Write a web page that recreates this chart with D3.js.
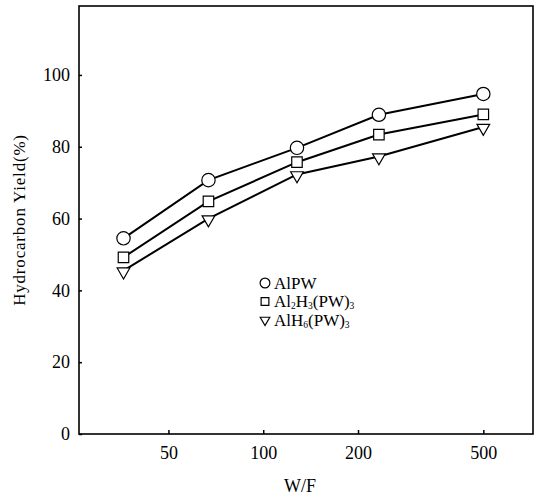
<!DOCTYPE html>
<html>
<head>
<meta charset="utf-8">
<style>
  body { margin: 0; background: #fff; }
  text { font-family: "Liberation Serif", "DejaVu Serif", serif; fill: #000; }
</style>
</head>
<body>
<svg width="536" height="497"></svg>
<script src="https://d3js.org/d3.v7.min.js"></script>
<script>

// W/F values (log axis) and yields (%)
var wf = [36, 67, 128, 233, 500];
var alpw = [54.5, 70.7, 79.7, 88.9, 94.7];
var al2h3 = [49.2, 64.8, 75.7, 83.4, 89.0];
var alh6 = [45.5, 60.0, 72.3, 77.3, 85.5];
var xTicks = [50, 100, 200, 500];
var yTicks = [0, 20, 40, 60, 80, 100];

var svg = d3.select("svg"),
    margin = {top: 6, right: 3, bottom: 63, left: 79},
    width = svg.attr("width") - margin.left - margin.right,
    height = svg.attr("height") - margin.top - margin.bottom,
    g = svg.append("g").attr("transform", "translate(" + margin.left + "," + margin.top + ")");

var x = d3.scaleLog().domain([26.0, 719]).range([0, width]),
    y = d3.scaleLinear().domain([0, 119.2]).range([height, 0]);

var series = [
  {name: "AlPW", values: alpw, shape: "circle"},
  {name: "Al2H3(PW)3", values: al2h3, shape: "square"},
  {name: "AlH6(PW)3", values: alh6, shape: "triangle"}
];

var types = {circle: d3.symbolCircle, square: d3.symbolSquare, triangle: d3.symbolTriangle};
var sizes = {circle: 140, square: 110, triangle: 70};      // plot markers
var legSizes = {circle: 75, square: 60, triangle: 40};     // legend markers

function marker(sel, shape, size) {
  sel.attr("d", d3.symbol().type(types[shape]).size(size)())
     .attr("fill", "#fff")
     .attr("stroke", "#000")
     .attr("stroke-width", 1.2);
}

// frame
g.append("rect")
    .attr("width", width)
    .attr("height", height)
    .attr("fill", "none")
    .attr("stroke", "#000")
    .attr("stroke-width", 1.6);

// axes
g.append("g")             //xAxis
    .attr("transform", "translate(0," + height + ")")
    .call(d3.axisBottom(x).tickValues(xTicks).tickFormat(d3.format("d"))
      .tickSizeInner(-4).tickSizeOuter(0).tickPadding(12))
    .call(function(a) {
      a.select(".domain").remove();
      a.selectAll("line").attr("stroke-width", 1.5);
      a.selectAll("text").style("font-size", "18px").attr("font-family", null);
    });

g.append("g")             //yAxis
    .call(d3.axisLeft(y).tickValues(yTicks)
      .tickSizeInner(-3).tickSizeOuter(0).tickPadding(9))
    .call(function(a) {
      a.select(".domain").remove();
      a.selectAll("line").attr("stroke-width", 1.5);
      a.selectAll("text").style("font-size", "18px").attr("font-family", null);
    });

svg.append("text")
    .attr("transform", "translate(25," + 220 + ") rotate(-90)")
    .attr("text-anchor", "middle")
    .style("font-size", "17px")
    .style("letter-spacing", "0.8px")
    .text("Hydrocarbon Yield(%)");

svg.append("text")
    .attr("x", 300)
    .attr("y", 492)
    .attr("text-anchor", "middle")
    .style("font-size", "18px")
    .text("W/F");

var line = d3.line()
    .x(function(d, i) { return x(wf[i]); })
    .y(function(d) { return y(d); });

var sg = g.selectAll(".series")
    .data(series)
  .enter().append("g")
    .attr("class", "series");

sg.append("path")
    .attr("fill", "none")
    .attr("stroke", "#000")
    .attr("stroke-width", 2)
    .attr("d", function(d) { return line(d.values); });

sg.each(function(s) {
  d3.select(this).selectAll(".pt")
      .data(s.values)
    .enter().append("path")
      .attr("class", "pt")
      .attr("transform", function(d, i) {
        var dy = s.shape === "triangle" ? 1 : 0;
        return "translate(" + x(wf[i]) + "," + (y(d) + dy) + ")" + (s.shape === "triangle" ? " rotate(180)" : "");
      })
      .each(function() { marker(d3.select(this), s.shape, sizes[s.shape]); });
});

// legend
var leg = svg.append("g").attr("transform", "translate(265,283)");
series.forEach(function(s, i) {
  var row = leg.append("g").attr("transform", "translate(0," + (i * 18.5) + ")");
  row.append("path")
      .attr("transform", s.shape === "triangle" ? "rotate(180)" : null)
      .call(marker, s.shape, legSizes[s.shape]);
  var t = row.append("text")
      .attr("x", 9)
      .attr("y", 5.5)
      .style("font-size", "17px");
  if (s.shape === "circle") {
    t.text("AlPW");
  } else {
    var sub1 = s.shape === "square" ? "2" : "";
    var sub2 = s.shape === "square" ? "3" : "6";
    t.append("tspan").text("Al");
    if (sub1) t.append("tspan").attr("dy", 2).style("font-size", "9.5px").text(sub1);
    t.append("tspan").attr("dy", sub1 ? -2 : 0).text("H");
    t.append("tspan").attr("dy", 2).style("font-size", "9.5px").text(sub2);
    t.append("tspan").attr("dy", -2).text("(PW)");
    t.append("tspan").attr("dy", 2).style("font-size", "9.5px").text("3");
  }
});

</script>
</body>
</html>
